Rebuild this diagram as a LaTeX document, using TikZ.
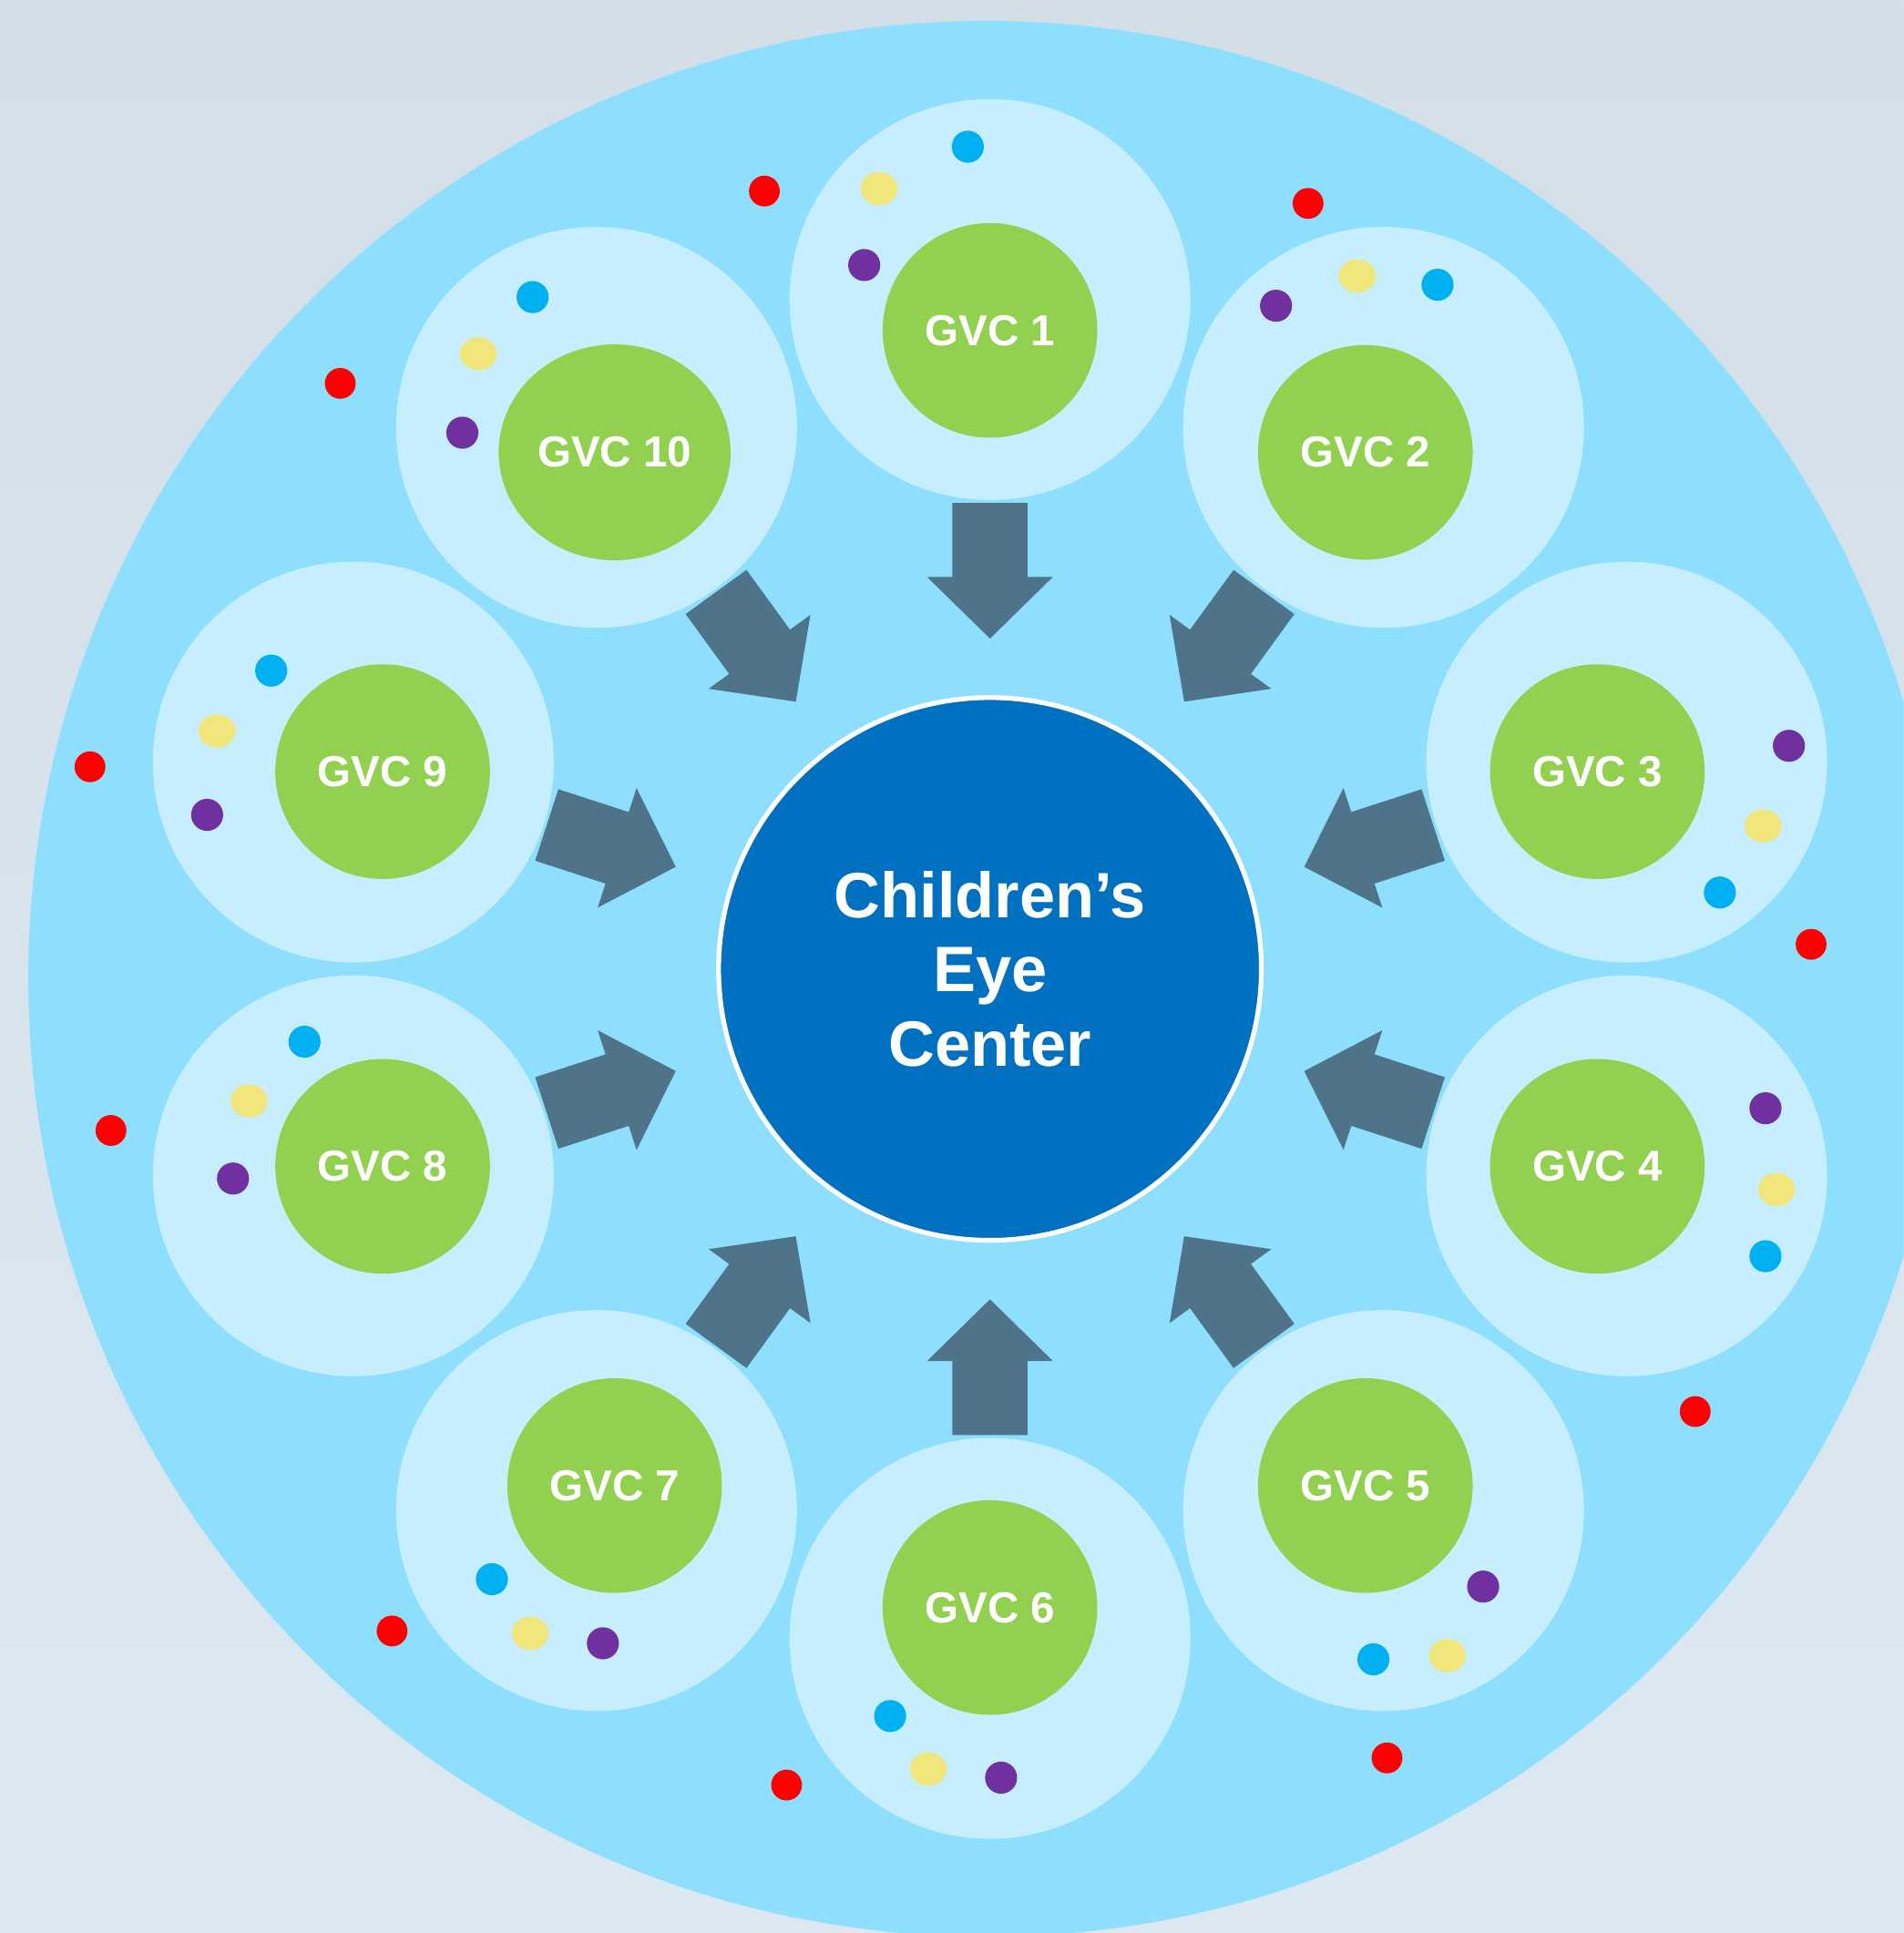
\documentclass[tikz,border=0pt]{standalone}
\usepackage{fontspec}
\setmainfont{Liberation Sans}
\usetikzlibrary{shapes.geometric,calc}
\definecolor{bgtop}{HTML}{D3DEE7}
\definecolor{bgbot}{HTML}{DDE9F2}
\definecolor{bigblue}{HTML}{8EDFFE}
\definecolor{lightblue}{HTML}{C6EEFE}
\definecolor{gvcgreen}{HTML}{92D050}
\definecolor{coreblue}{HTML}{0070C0}
\definecolor{arrowslate}{HTML}{4F7389}
\definecolor{dotred}{HTML}{FF0000}
\definecolor{dotblue}{HTML}{00B0F0}
\definecolor{dotyellow}{HTML}{F0E67C}
\definecolor{dotpurple}{HTML}{7030A0}
\begin{document}
\begin{tikzpicture}[x=0.01cm,y=0.01cm,
  halo/.style={circle, fill=lightblue, minimum size=3.25cm, inner sep=0pt},
  gvc/.style={circle, fill=gvcgreen, minimum size=1.74cm, inner sep=0pt, text=white,
    font=\fontsize{10}{12}\selectfont\bfseries},
  gvcwide/.style={gvc, ellipse, minimum width=1.88cm, minimum height=1.75cm},
  core/.style={circle, fill=coreblue, draw=white, line width=1.1pt, minimum size=4.4cm,
    inner sep=0pt, text=white, align=center, font=\fontsize{14.8}{17.07}\selectfont\bfseries},
  blockarrow/.style={fill=arrowslate},
  reddot/.style={fill=dotred},
  bluedot/.style={fill=dotblue},
  yellowdot/.style={fill=dotyellow},
  purpledot/.style={fill=dotpurple}
]
\useasboundingbox (0,0) rectangle (1544,1568);
\clip (0,0) rectangle (1544,1568);
\shade[top color=bgtop, bottom color=bgbot] (0,0) rectangle (1544,1568);
\fill[bigblue] (800,774) circle[radius=777];
\coordinate (o) at (803,782);
% halos
\foreach \k in {1,...,10}{
  \pgfmathsetmacro\ang{90-36*(\k-1)}
  \node[halo] (h\k) at ($(o)+(\ang:543)$) {};
}
% red dots
\foreach \p in {(620,1413),(1061,1403),(276,1257),(73,946),(1469,802),(90,651),(1375,423),(318,245),(638,120),(1125,142)}
  \fill[reddot] \p circle[radius=12.5];
% blue dots
\foreach \p in {(785,1449),(1166,1337),(1395,844),(1432,549),(1114,222),(722,176),(399,287),(247,723),(220,1024),(432,1327)}
  \fill[bluedot] \p circle[radius=13];
% yellow dots
\foreach \p in {(713,1415),(1101,1344),(1430,898),(1441,603),(1174,225),(753,133),(430,243),(202,675),(176,975),(388,1281)}
  \fill[yellowdot] \p ellipse[x radius=15, y radius=13.5];
% purple dots
\foreach \p in {(701,1353),(1035,1320),(1451,963),(1432,669),(1203,281),(812,126),(489,235),(189,612),(168,907),(375,1217)}
  \fill[purpledot] \p circle[radius=13];
% green nodes
\foreach \k in {1,...,9}{
  \pgfmathsetmacro\ang{90-36*(\k-1)}
  \node[gvc] (g\k) at ($(o)+(\ang:518)$) {GVC \k};
}
\node[gvcwide] (g10) at ($(o)+(126:518)$) {GVC 10};
% arrows
\foreach \k in {1,...,10}{
  \pgfmathsetmacro\ang{90-36*(\k-1)}
  \fill[blockarrow, shift={(o)}, rotate=\ang]
    (378,30.5) -- (318,30.5) -- (318,51) -- (268,0) -- (318,-51) -- (318,-30.5) -- (378,-30.5) -- cycle;
}
% core
\node[core] (c) at (o) {Children’s\\Eye\\Center};
\end{tikzpicture}
\end{document}
